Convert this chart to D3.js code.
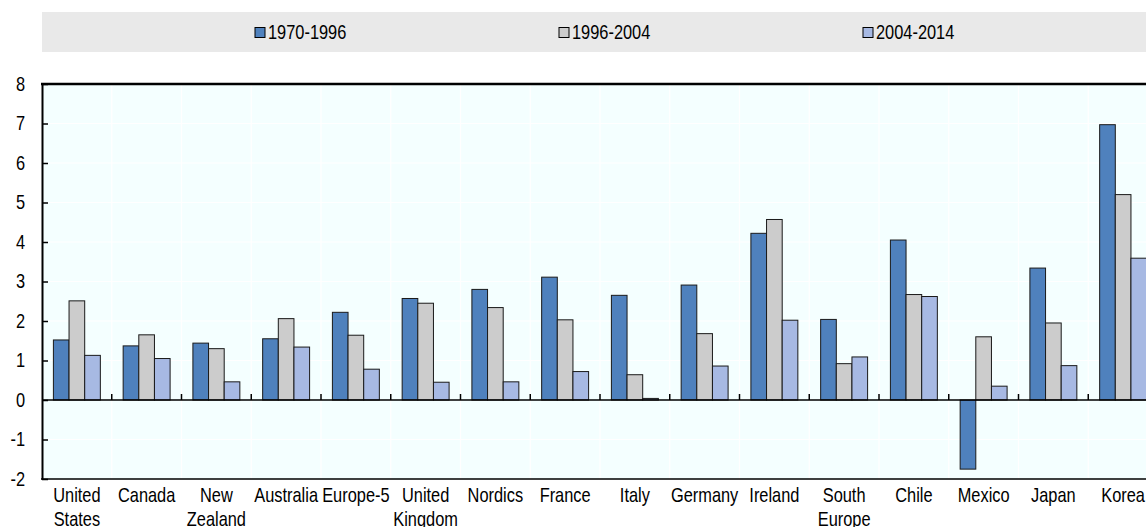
<!DOCTYPE html>
<html>
<head>
<meta charset="utf-8">
<script src="https://cdn.jsdelivr.net/npm/d3@7"></script>
<style>
  body { margin: 0; background: #fff; }
  text { font-family: "Liberation Sans", Arial, sans-serif; fill: #000; }
</style>
</head>
<body>
<div class="canvas"></div>
<script>
// data
const categories = ["United\nStates", "Canada", "New\nZealand", "Australia", "Europe-5", "United\nKingdom",
  "Nordics", "France", "Italy", "Germany", "Ireland", "South\nEurope", "Chile", "Mexico", "Japan", "Korea"];
const seriesNames = ["1970-1996", "1996-2004", "2004-2014"];
const s1970 = [1.52, 1.37, 1.44, 1.55, 2.22, 2.57, 2.80, 3.11, 2.65, 2.91, 4.22, 2.04, 4.05, -1.75, 3.34, 6.97];
const s1996 = [2.51, 1.65, 1.30, 2.06, 1.64, 2.45, 2.34, 2.03, 0.64, 1.68, 4.57, 0.92, 2.67, 1.60, 1.95, 5.20];
const s2004 = [1.13, 1.05, 0.46, 1.34, 0.78, 0.45, 0.46, 0.72, 0.04, 0.86, 2.02, 1.09, 2.62, 0.35, 0.87, 3.59];
const yTicks = [-2, -1, 0, 1, 2, 3, 4, 5, 6, 7, 8];

const colors = ["#4f81bd", "#cccccc", "#a7b9e3"];
const allSeries = [s1970, s1996, s2004];

const width = 1146, height = 527;
const margin = {top: 84, left: 42};
const plotRight = 1158, plotBottom = 479;
const narrow = 0.82; // no condensed font installed, squeeze text instead

const svg = d3.select('.canvas')
  .append('svg')
    .attr('width', width)
    .attr('height', height);

// legend band
const legend = svg.append('g');
legend.append('rect')
  .attr('x', 42).attr('y', 12)
  .attr('width', plotRight - 42).attr('height', 40)
  .attr('fill', '#e9e9e9');

const legendX = d3.scalePoint()
  .domain(seriesNames)
  .range([255, 863]);

seriesNames.forEach((name, i) => {
  legend.append('rect')
    .attr('x', legendX(name)).attr('y', 27.5)
    .attr('width', 10).attr('height', 10)
    .attr('fill', colors[i])
    .attr('stroke', '#000').attr('stroke-width', 1);
  legend.append('text')
    .attr('transform', `translate(${legendX(name) + 13},39) scale(${narrow},1)`)
    .style('font-size', '20px')
    .text(name);
});

// scales
const x0 = d3.scaleBand()
  .domain(categories)
  .range([margin.left, plotRight]);

const x1 = d3.scaleBand()
  .domain(seriesNames)
  .range([11.4, x0.bandwidth() - 11.4]);

const y = d3.scaleLinear()
  .domain([-2, 8])
  .range([plotBottom, margin.top]);

// plot background
svg.append('rect')
  .attr('x', margin.left).attr('y', margin.top)
  .attr('width', plotRight - margin.left).attr('height', plotBottom - margin.top)
  .attr('fill', '#f4ffff');

// gridlines
const grid = svg.append('g')
  .attr('stroke', '#ffffff')
  .attr('stroke-width', 1.2);

grid.selectAll('line.h')
  .data(yTicks.filter(t => t !== 0 && t !== -2 && t !== 8))
  .enter()
  .append('line')
    .attr('x1', margin.left).attr('x2', plotRight)
    .attr('y1', d => y(d)).attr('y2', d => y(d));

grid.selectAll('line.v')
  .data(categories.slice(1))
  .enter()
  .append('line')
    .attr('x1', d => x0(d)).attr('x2', d => x0(d))
    .attr('y1', margin.top).attr('y2', plotBottom);

// bars
const groups = svg.selectAll('g.cat')
  .data(categories)
  .enter()
  .append('g')
    .attr('transform', d => `translate(${x0(d)},0)`);

groups.selectAll('rect')
  .data((d, ci) => seriesNames.map((s, si) => ({s, si, v: allSeries[si][ci]})))
  .enter()
  .append('rect')
    .attr('x', d => x1(d.s))
    .attr('y', d => y(Math.max(0, d.v)))
    .attr('width', x1.bandwidth())
    .attr('height', d => Math.abs(y(d.v) - y(0)))
    .attr('fill', d => colors[d.si])
    .attr('stroke', '#1a1a1a')
    .attr('stroke-width', 1);

// zero line and category ticks
svg.append('line')
  .attr('x1', margin.left).attr('x2', plotRight)
  .attr('y1', y(0)).attr('y2', y(0))
  .attr('stroke', '#000').attr('stroke-width', 1.5);

svg.selectAll('line.ctick')
  .data(categories.slice(1))
  .enter()
  .append('line')
    .attr('x1', d => x0(d)).attr('x2', d => x0(d))
    .attr('y1', y(0) - 6).attr('y2', y(0))
    .attr('stroke', '#000').attr('stroke-width', 1.5);

// frame
svg.append('line')
  .attr('x1', margin.left - 1).attr('x2', plotRight)
  .attr('y1', margin.top).attr('y2', margin.top)
  .attr('stroke', '#000').attr('stroke-width', 2.5);
svg.append('line')
  .attr('x1', margin.left - 1).attr('x2', plotRight)
  .attr('y1', plotBottom).attr('y2', plotBottom)
  .attr('stroke', '#000').attr('stroke-width', 1.5);

// y axis
const yAxis = d3.axisLeft(y)
  .tickValues(yTicks)
  .tickFormat(d => String(d))
  .tickSizeInner(-6)
  .tickSizeOuter(0)
  .tickPadding(17);

const yAxisGroup = svg.append('g')
  .attr('transform', `translate(${margin.left},0)`)
  .call(yAxis);

yAxisGroup.select('.domain')
  .attr('stroke', '#000').attr('stroke-width', 2);
yAxisGroup.selectAll('.tick line')
  .attr('stroke', '#000').attr('stroke-width', 1.5);
yAxisGroup.selectAll('.tick text')
  .attr('x', -17 / narrow)
  .attr('transform', `scale(${narrow},1)`)
  .style('font-size', '20px')
  .style('font-family', '"Liberation Sans", Arial, sans-serif')
  .attr('fill', '#000');

// category labels
const labels = svg.selectAll('text.cat')
  .data(categories)
  .enter()
  .append('text')
    .attr('transform', d => `translate(${x0(d) + x0.bandwidth() / 2},502) scale(${narrow},1)`)
    .attr('text-anchor', 'middle')
    .style('font-size', '20px');

labels.selectAll('tspan')
  .data(d => d.split('\n'))
  .enter()
  .append('tspan')
    .attr('x', 0)
    .attr('dy', (d, i) => i === 0 ? 0 : 24)
    .text(d => d);
</script>
</body>
</html>
